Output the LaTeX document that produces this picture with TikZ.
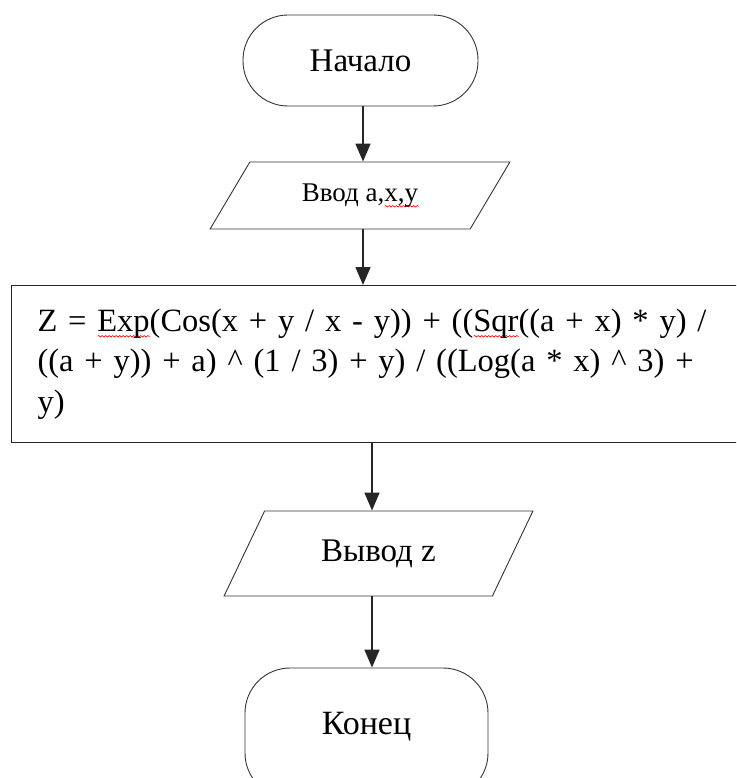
\documentclass[tikz,border=0pt]{standalone}
\usepackage{fontspec}
\setmainfont{Liberation Serif}
\usetikzlibrary{shapes.geometric}
\usetikzlibrary{arrows.meta}
\usetikzlibrary{decorations.pathmorphing}

% red wavy line of the spell checker
\newsavebox{\spellbox}
\newcommand{\spellmark}[1]{\sbox{\spellbox}{#1}\rlap{\tikz[baseline=0pt, x=1pt, y=1pt]
		\draw[red, line width=0.6pt, decorate, decoration={snake, amplitude=0.8pt, segment length=3.5pt}] (0pt,-5pt) -- (\wd\spellbox,-5pt);}#1}

\begin{document}
\begin{tikzpicture}[x=1pt,y=-1pt]
	\tikzset{term/.style={draw=black!80, line width=0.9pt, rectangle, rounded corners=45pt, inner sep=0pt},
		io/.style={draw=black!80, line width=0.9pt, trapezium, trapezium stretches=true, inner sep=0pt},
		flow/.style={line width=1.6pt, black!85, -{Triangle[width=15pt,length=18pt]}}}
	
	% Size of the page
	\useasboundingbox (0,0) rectangle (736,778);
	\clip (0,0) rectangle (736,778);
	
	% Axes of the arrows
	\coordinate (upper) at (363,0);
	\coordinate (lower) at (372,0);
	
	% Start
	\node[term, minimum width=235pt, minimum height=91pt, font=\fontsize{33}{38}\selectfont] (start) at (360.5,60.5) {Начало};
	
	% Input of the data
	\node[io, trapezium left angle=48.6, trapezium right angle=131.4, minimum width=300pt, minimum height=67pt, font=\fontsize{27}{32}\selectfont] (input) at (360,195.5) {Ввод a,\spellmark{x,y}};
	
	% Formula
	\node[draw=black!85, line width=1pt, anchor=north west, minimum width=760pt, minimum height=157pt, text width=708pt, inner xsep=26pt, align=left, font=\fontsize{32.5}{40.5}\selectfont] (calc) at (11,285)
	{Z = \spellmark{Exp}(Cos(x + y / x - y)) + ((\spellmark{Sqr}((a + x) * y) /\\
		((a + y)) + a) \textasciicircum{} (1 / 3) + y) / ((Log(a * x) \textasciicircum{} 3) +\\
		y)};
	
	% Output of the result
	\node[io, trapezium left angle=53.9, trapezium right angle=126.1, minimum width=309pt, minimum height=85pt, font=\fontsize{33}{38}\selectfont] (out) at (378.5,553.5) {Вывод z};
	
	% End (cut off by the lower edge)
	\node[term, minimum width=243pt, minimum height=130pt, text depth=20pt, font=\fontsize{34}{40}\selectfont] (stop) at (366.5,733) {Конец};
	
	% Arrows
	\draw[flow] (start.south -| upper) -- (input.north -| upper);
	\draw[flow] (input.south -| upper) -- (calc.north -| upper);
	\draw[flow] (calc.south -| lower) -- (out.north -| lower);
	\draw[flow] (out.south -| lower) -- (stop.north -| lower);
	
\end{tikzpicture}
\end{document}
